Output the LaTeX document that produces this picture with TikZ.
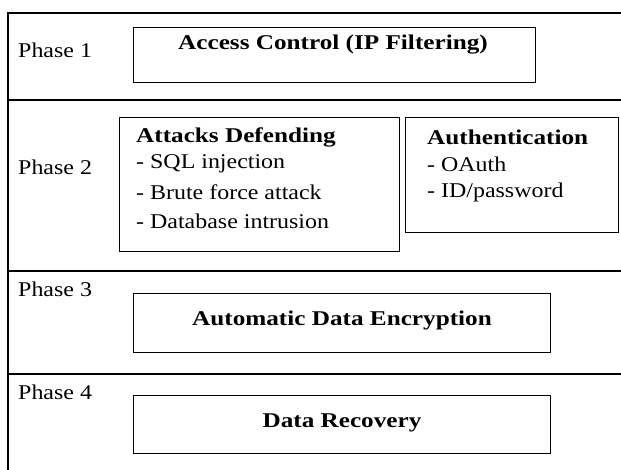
\documentclass[tikz,border=0pt]{standalone}
\usepackage{fontspec}
\setmainfont{Liberation Serif}[FakeStretch=1.14,BoldFeatures={FakeStretch=1.2}]
\begin{document}
\begin{tikzpicture}[x=1pt,y=-1pt,
  rule/.style={line width=2pt,black},
  frame/.style={draw=black,line width=1pt},
  txt/.style={anchor=west,font=\fontsize{21}{26}\selectfont,inner sep=0pt},
  head/.style={font=\bfseries\fontsize{21}{26}\selectfont,inner sep=0pt}]
\useasboundingbox (0,0) rectangle (621,470);
% outer frame: left edge and top edge, with the three phase separators
\draw[rule] (8,470) -- (8,13) -- (621,13);
\draw[rule] (8,100) -- (621,100);
\draw[rule] (8,271) -- (621,271);
\draw[rule] (8,374) -- (621,374);
% phase labels
\node[txt] (p1) at (18,50) {Phase 1};
\node[txt] (p2) at (18,167) {Phase 2};
\node[txt] (p3) at (18,289) {Phase 3};
\node[txt] (p4) at (18,392) {Phase 4};
% phase 1
\draw[frame] (133,28) rectangle (535,83);
\node[head] (ac) at (333,45) {Access Control (IP Filtering)};
% phase 2
\draw[frame] (119,118) rectangle (399,252);
\draw[frame] (405,118) rectangle (618,233);
\node[head,anchor=west] (ad) at (136,137) {Attacks Defending};
\node[txt] (ad1) at (136,164) {- SQL injection};
\node[txt] (ad2) at (136,192) {- Brute force attack};
\node[txt] (ad3) at (136,221) {- Database intrusion};
\node[head,anchor=west] (au) at (427,137) {Authentication};
\node[txt] (au1) at (427,164) {- OAuth};
\node[txt] (au2) at (427,192) {- ID/password};
% phase 3
\draw[frame] (133,294) rectangle (550,352);
\node[head] (enc) at (342,320) {Automatic Data Encryption};
% phase 4
\draw[frame] (133,395) rectangle (550,453);
\node[head] (rec) at (342,423) {Data Recovery};
\end{tikzpicture}
\end{document}
